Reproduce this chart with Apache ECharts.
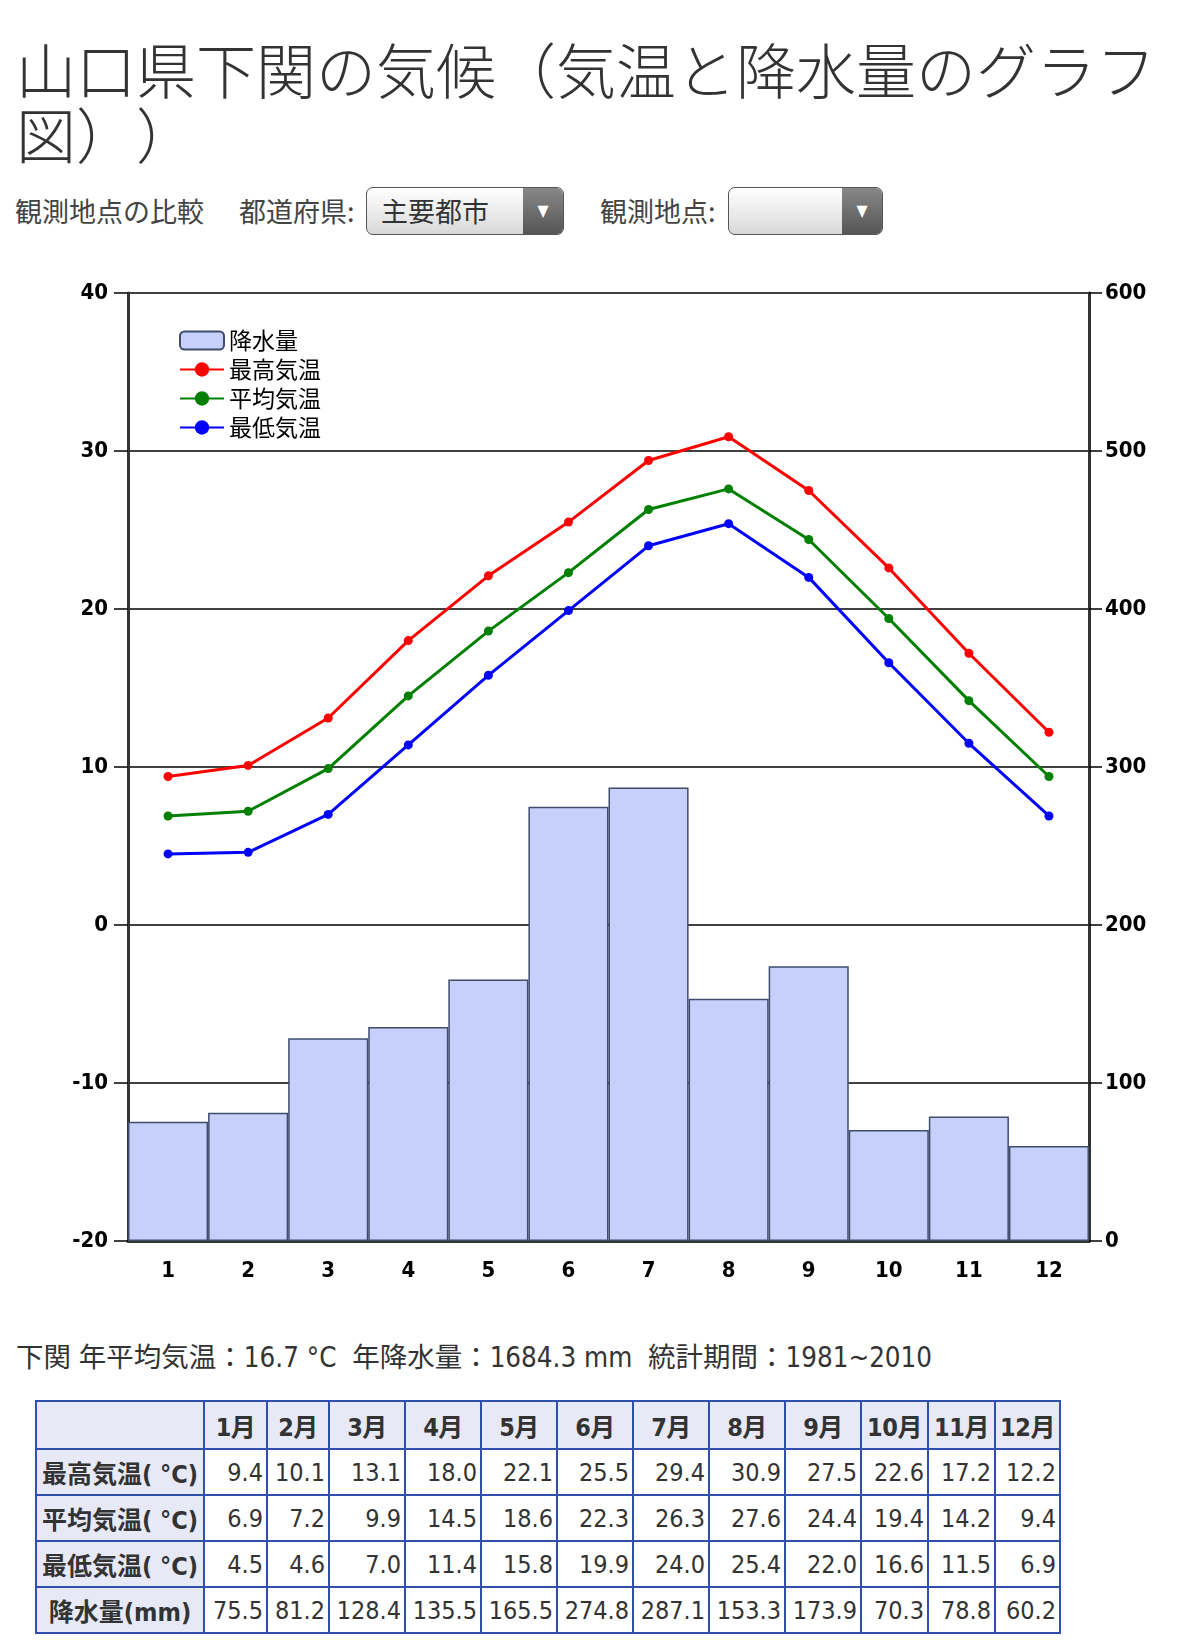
<!DOCTYPE html>
<html>
<head>
<meta charset="utf-8">
<title>山口県下関の気候</title>
<script src="https://cdn.jsdelivr.net/npm/echarts/dist/echarts.min.js"></script>
<style>
    body { margin: 0; background: #fff; font-family: 'DejaVu Sans Condensed', 'Noto Sans CJK JP', sans-serif; color: #333; }
    .abs { position: absolute; }
    #title { left: 16px; top: 35px; font-size: 60px; line-height: 65px; font-family: 'Noto Sans CJK JP', sans-serif; font-weight: 300; color: #333; white-space: nowrap; text-spacing-trim: space-all; }
    .lbl { font-size: 27px; color: #444; line-height: 48px; top: 187px; font-family: 'Noto Sans CJK JP', sans-serif; }
    .sel { top: 187px; height: 46px; border: 1px solid #555; border-radius: 7px; background: linear-gradient(#fff, #d8d8d8); overflow: hidden; }
    .sel span { position: absolute; left: 14px; top: 0; line-height: 46px; font-size: 27px; color: #333; font-family: 'Noto Sans CJK JP', sans-serif; }
    .sel .arr { position: absolute; right: 0; top: 0; width: 40px; height: 46px; background: linear-gradient(#888, #555); color: #fff; font-size: 16px; text-align: center; line-height: 46px; }
    #chart { left: 0; top: 260px; width: 1177px; height: 1040px; }
    #summary { left: 16px; top: 1338px; font-size: 27.5px; line-height: 38px; color: #333; white-space: nowrap; }
    table { position: absolute; left: 35px; top: 1400px; border-collapse: collapse; border: 2px solid #2f4fae; table-layout: fixed; font-size: 25px; }
    td, th { border: 2px solid #2f4fae; padding: 0 3px; color: #333; white-space: nowrap; overflow: hidden; }
    th { background: #e7e9f7; font-weight: bold; text-align: center; height: 46px; padding: 0 1px; letter-spacing: -0.5px; }
    td { text-align: right; height: 44px; }
    td.h { background: #e7e9f7; font-weight: bold; text-align: center; }
</style>
</head>
<body>
<div id="title" class="abs">山口県下関の気候（気温と降水量のグラフ<br>図））</div>
<div class="abs lbl" style="left:15px">観測地点の比較</div>
<div class="abs lbl" style="left:239px">都道府県:</div>
<div class="abs sel" style="left:366px;width:196px"><span>主要都市</span><div class="arr">▼</div></div>
<div class="abs lbl" style="left:600px">観測地点:</div>
<div class="abs sel" style="left:728px;width:153px"><div class="arr">▼</div></div>
<div id="chart" class="abs"></div>
<div id="summary" class="abs">下関 年平均気温：16.7 °C&nbsp; 年降水量：1684.3 mm&nbsp; 統計期間：1981~2010</div>
<table id="tbl"></table>
<script>
    // data
    const months = ['1', '2', '3', '4', '5', '6', '7', '8', '9', '10', '11', '12']
    const tempMax = [9.4, 10.1, 13.1, 18.0, 22.1, 25.5, 29.4, 30.9, 27.5, 22.6, 17.2, 12.2]
    const tempAvg = [6.9, 7.2, 9.9, 14.5, 18.6, 22.3, 26.3, 27.6, 24.4, 19.4, 14.2, 9.4]
    const tempMin = [4.5, 4.6, 7.0, 11.4, 15.8, 19.9, 24.0, 25.4, 22.0, 16.6, 11.5, 6.9]
    const precip = [75.5, 81.2, 128.4, 135.5, 165.5, 274.8, 287.1, 153.3, 173.9, 70.3, 78.8, 60.2]

    // table
    const colW = [168, 63, 62, 76, 76, 76, 76, 76, 76, 76, 67, 67, 65]
    let html = '<colgroup>' + colW.map(w => '<col style="width:' + w + 'px">').join('') + '</colgroup>'
    html += '<tr><th></th>' + months.map(m => '<th>' + m + '月</th>').join('') + '</tr>'
    const rows = [
        ['最高気温( °C)', tempMax],
        ['平均気温( °C)', tempAvg],
        ['最低気温( °C)', tempMin],
        ['降水量(mm)', precip]
    ]
    rows.forEach(r => {
        html += '<tr><td class="h">' + r[0] + '</td>' + r[1].map(v => '<td>' + v.toFixed(1) + '</td>').join('') + '</tr>'
    })
    document.getElementById('tbl').innerHTML = html

    const axisFont = {
        fontFamily: 'Liberation Sans Narrow, DejaVu Sans Condensed, sans-serif',
        fontWeight: 'bold',
        fontSize: 22,
        color: '#000'
    }

    function lineSeries(name, data, color) {
        return {
            name: name,
            type: 'line',
            yAxisIndex: 0,
            data: data,
            symbol: 'circle',
            symbolSize: 9,
            itemStyle: { color: color },
            lineStyle: { color: color, width: 3 },
            z: 5
        }
    }

    let option = {
        animation: false,
        grid: { left: 128, right: 88, top: 33, bottom: 59 },
        legend: {
            orient: 'vertical',
            left: 174,
            top: 64,
            itemWidth: 44,
            itemHeight: 18,
            itemGap: 6,
            textStyle: { fontSize: 23, lineHeight: 22, color: '#000', fontFamily: 'Noto Sans CJK JP' },
            data: ['降水量', '最高気温', '平均気温', '最低気温']
        },
        xAxis: {
            type: 'category',
            data: months,
            boundaryGap: true,
            axisLine: { onZero: false, lineStyle: { color: '#333', width: 3 } },
            axisTick: { alignWithLabel: true, length: 9, lineStyle: { color: '#000', width: 1.5 } },
            axisLabel: Object.assign({ margin: 19 }, axisFont),
            splitLine: { show: false }
        },
        yAxis: [
            {
                type: 'value',
                min: -20,
                max: 40,
                interval: 10,
                position: 'left',
                axisLine: { show: true, lineStyle: { color: '#333', width: 3 } },
                axisTick: { show: true, length: 14, lineStyle: { color: '#000', width: 1.5 } },
                axisLabel: Object.assign({ margin: 20 }, axisFont),
                splitLine: { show: true, lineStyle: { color: '#000', width: 1.5 } }
            },
            {
                type: 'value',
                min: 0,
                max: 600,
                interval: 100,
                position: 'right',
                axisLine: { show: true, lineStyle: { color: '#333', width: 3 } },
                axisTick: { show: true, length: 13, lineStyle: { color: '#000', width: 1.5 } },
                axisLabel: Object.assign({ margin: 16 }, axisFont),
                splitLine: { show: false }
            }
        ],
        series: [
            {
                name: '降水量',
                type: 'bar',
                yAxisIndex: 1,
                data: precip,
                barCategoryGap: '0%',
                itemStyle: { color: '#c6d0fb', borderColor: '#3e4c6e', borderWidth: 1.5 },
                z: 1
            },
            lineSeries('最高気温', tempMax, '#ff0000'),
            lineSeries('平均気温', tempAvg, '#008000'),
            lineSeries('最低気温', tempMin, '#0000ff')
        ]
    }

    let mychart = echarts.init(document.getElementById('chart'))
    mychart.setOption(option)
</script>
</body>
</html>
